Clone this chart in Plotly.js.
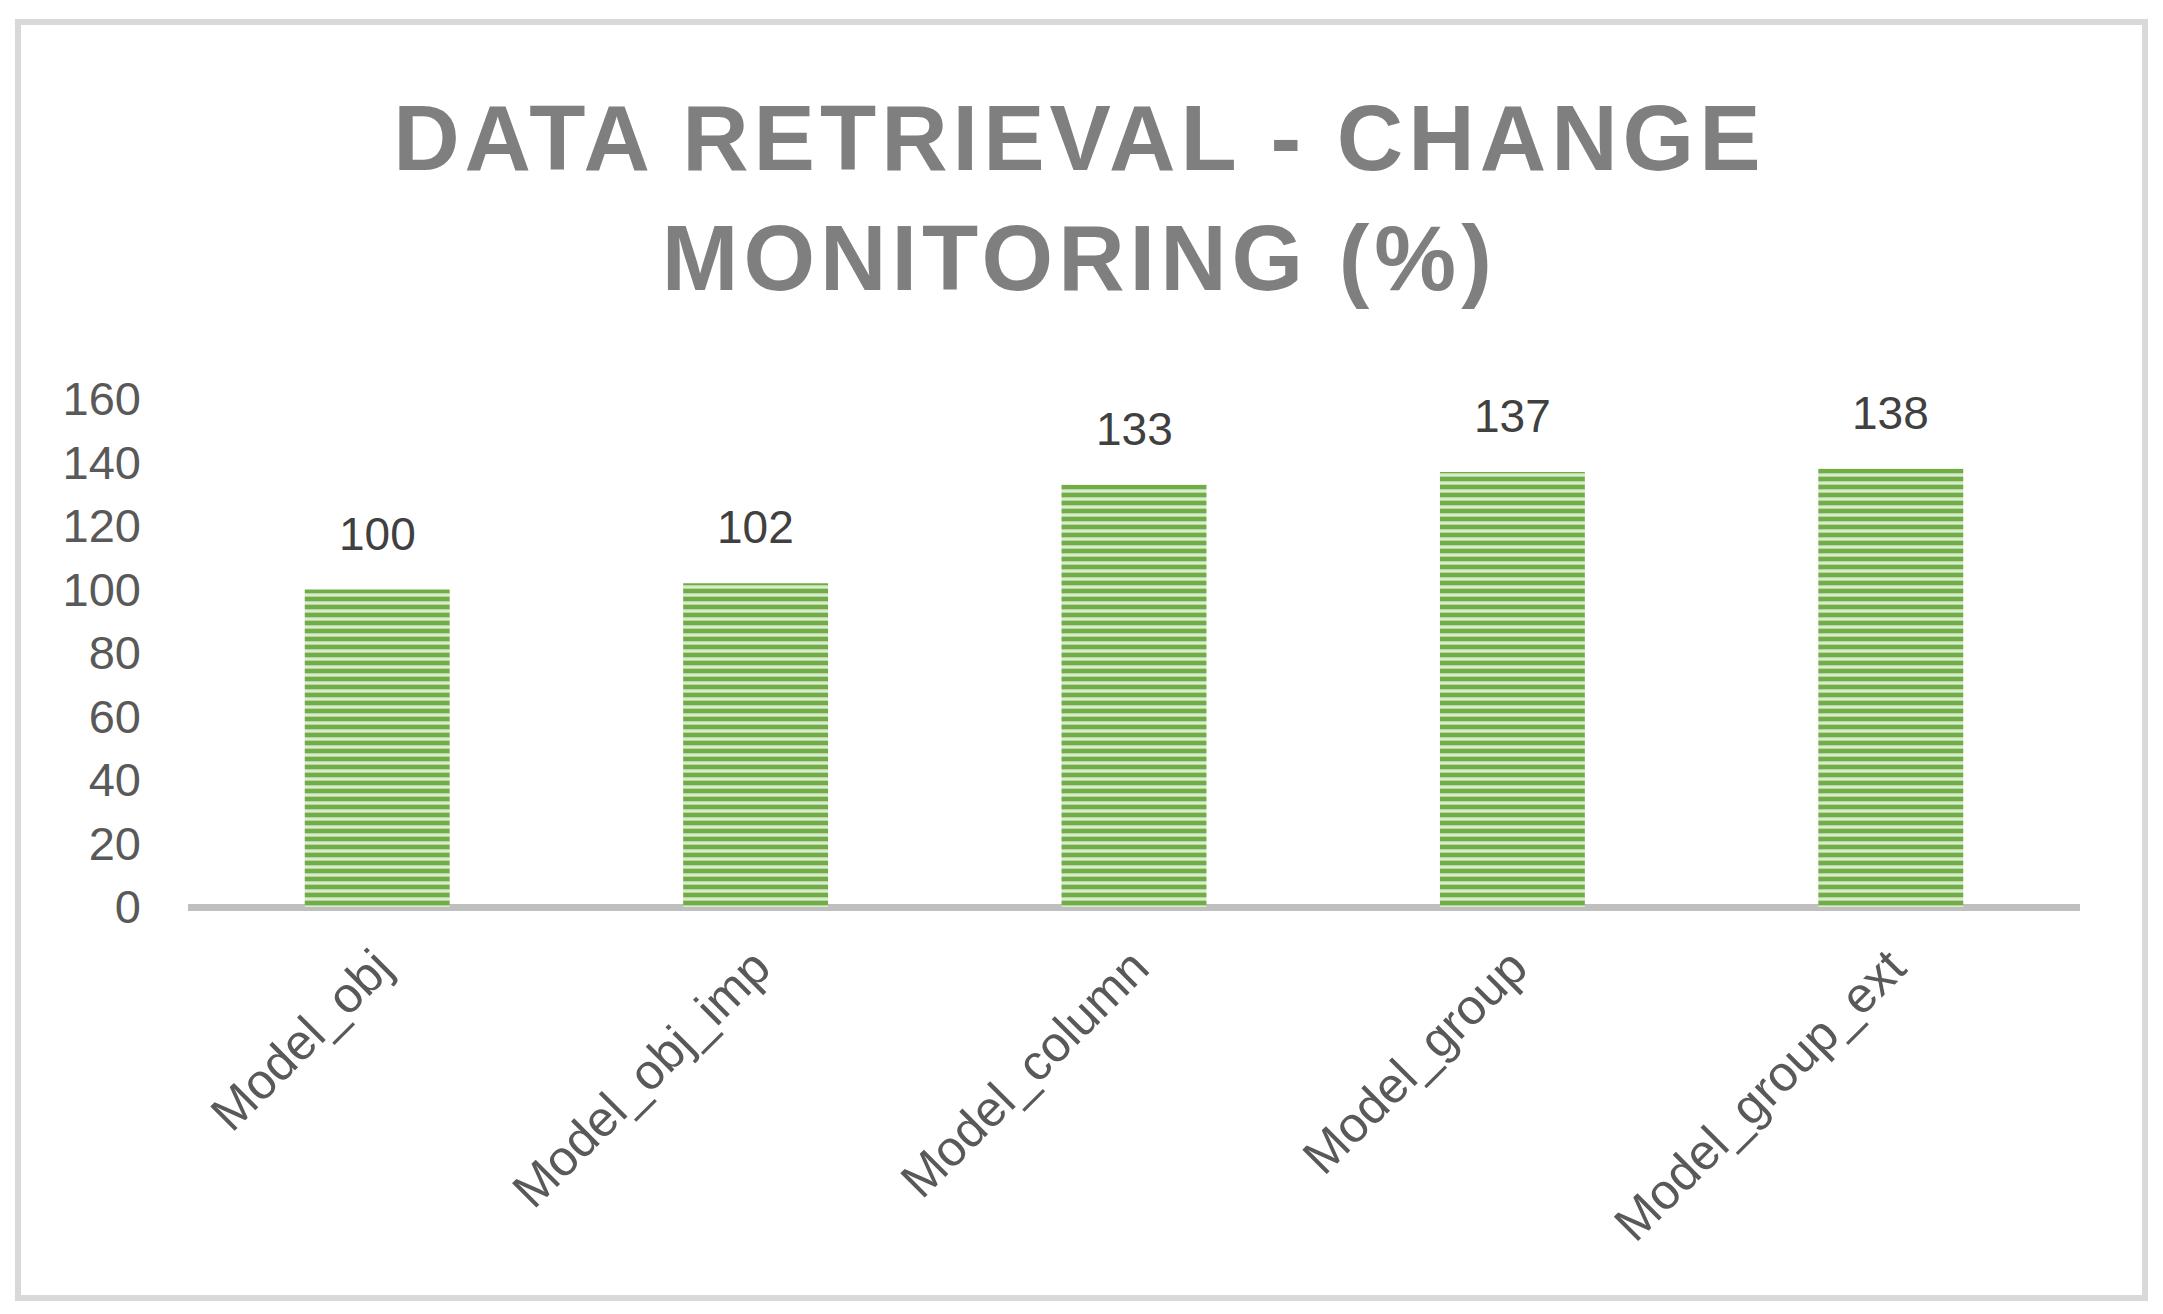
<!DOCTYPE html>
<html>
<head>
<meta charset="utf-8">
<script src="https://cdn.plot.ly/plotly-3.0.1.min.js"></script>
<style>
  html, body { margin: 0; padding: 0; background: #ffffff; }
  #wrap { position: relative; width: 2163px; height: 1314px; }
  #frame { position: absolute; left: 15px; top: 19px; width: 2133px; height: 1282px;
           box-sizing: border-box; border: 6px solid #d9d9d9; }
  #chart { position: absolute; left: 0; top: 0; width: 2163px; height: 1314px; }
  #chart .gtitle { letter-spacing: 5px; }
</style>
</head>
<body>
<div id="wrap">
  <div id="frame"></div>
  <div id="chart"></div>
</div>
<script>
const categories = ['Model_obj', 'Model_obj_imp', 'Model_column', 'Model_group', 'Model_group_ext'];
const values = [100, 102, 133, 137, 138];
const yTicks = [0, 20, 40, 60, 80, 100, 120, 140, 160];
const titleText = 'DATA RETRIEVAL - CHANGE<br>MONITORING (%)';

const fontFamily = '"Liberation Sans", Arial, sans-serif';

const trace = {
  type: 'bar',
  x: categories,
  y: values,
  width: 0.383,
  marker: {
    color: '#70AD47',
    line: { width: 0 },
    pattern: { shape: '-', size: 8, solidity: 0.42, fgcolor: '#d9eacd', bgcolor: '#70AD47', fillmode: 'replace' }
  },
  hoverinfo: 'skip'
};

const annotations = categories.map((c, i) => ({
  x: c, y: values[i], xref: 'x', yref: 'y',
  text: String(values[i]), showarrow: false,
  yanchor: 'bottom', yshift: 28,
  font: { family: fontFamily, size: 46, color: '#404040' }
}));

const layout = {
  width: 2163, height: 1314,
  paper_bgcolor: 'rgba(0,0,0,0)',
  plot_bgcolor: 'rgba(0,0,0,0)',
  margin: { l: 188, r: 83, t: 399, b: 407, pad: 0 },
  showlegend: false,
  title: {
    text: titleText,
    x: 0.499, xanchor: 'center',
    y: 1 - 170 / 1314, yanchor: 'middle',
    font: { family: fontFamily, size: 92, color: '#7f7f7f', weight: 'bold' }
  },
  xaxis: {
    type: 'category',
    tickangle: -45,
    showline: false, showgrid: false, zeroline: false,
    ticks: '',
    ticklabelstandoff: 20,
    tickfont: { family: fontFamily, size: 50, color: '#595959' }
  },
  yaxis: {
    range: [0, 160],
    tickvals: yTicks,
    showgrid: false, showline: false,
    zeroline: true, zerolinecolor: '#bfbfbf', zerolinewidth: 7,
    ticks: '',
    ticklabelstandoff: 46,
    tickfont: { family: fontFamily, size: 47, color: '#595959' }
  },
  annotations: annotations
};

Plotly.newPlot('chart', [trace], layout, { displayModeBar: false, staticPlot: true });
</script>
</body>
</html>
